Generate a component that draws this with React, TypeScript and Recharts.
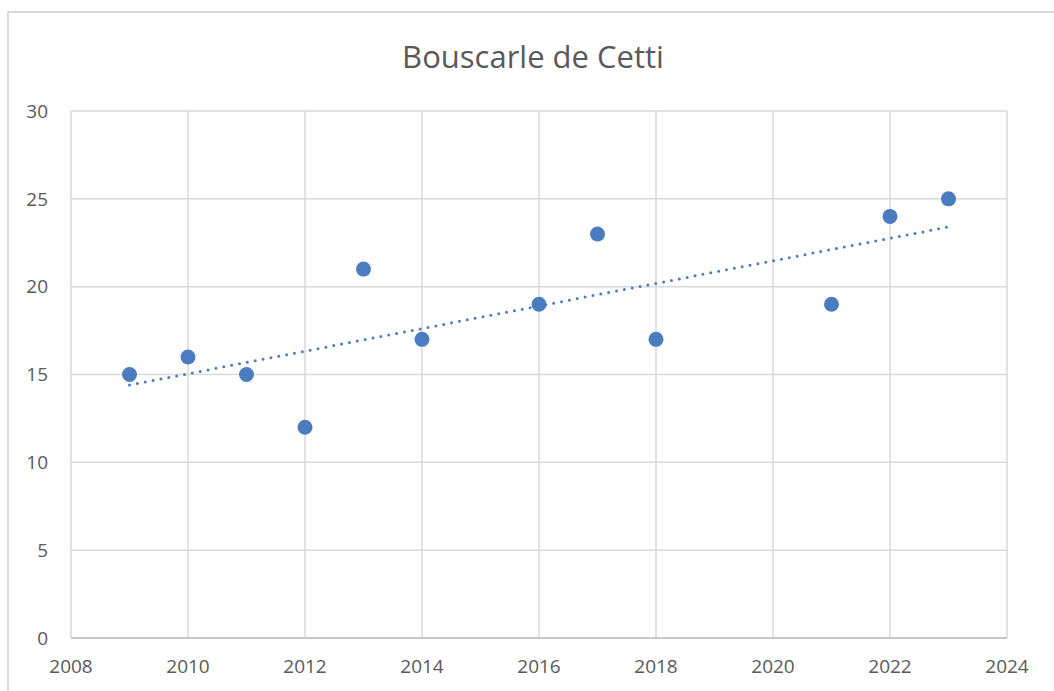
import { ScatterChart, Scatter, XAxis, YAxis, CartesianGrid } from "recharts";

const years = [2009, 2010, 2011, 2012, 2013, 2014, 2016, 2017, 2018, 2021, 2022, 2023];
const counts = [15, 16, 15, 12, 21, 17, 19, 23, 17, 19, 24, 25];

// linear trendline end points
const trendYears = [2009, 2023];
const trendValues = [14.4, 23.4];

const xTicks = [2008, 2010, 2012, 2014, 2016, 2018, 2020, 2022, 2024];
const yTicks = [0, 5, 10, 15, 20, 25, 30];

const blue = "#4a7cbf";
const textColor = "#595959";
const font = "'Open Sans', 'Noto Sans', sans-serif";

export default function App() {
  const points = years.map((y, i) => ({ x: y, y: counts[i] }));
  const trend = trendYears.map((y, i) => ({ x: y, y: trendValues[i] }));

  return (
    <div style={{ position: "fixed", left: 0, top: 0, width: 1054, height: 691, overflow: "hidden", background: "#fff" }}>
      <div
        style={{
          position: "absolute",
          left: 7,
          top: 11,
          width: 1070,
          height: 720,
          border: "2px solid #d9d9d9",
          boxSizing: "border-box",
        }}
      />
      <div
        style={{
          position: "absolute",
          left: 0,
          width: 1066,
          top: 36,
          textAlign: "center",
          fontFamily: font,
          fontSize: 31,
          color: textColor,
          lineHeight: "40px",
        }}
      >
        Bouscarle de Cetti
      </div>
      <div style={{ position: "absolute", left: 9, top: 14 }}>
        <ScatterChart width={1060} height={690} margin={{ top: 97, right: 62, bottom: 16, left: 0 }}>
          <CartesianGrid stroke="#d9d9d9" strokeWidth={1.5} />
          <XAxis
            type="number"
            dataKey="x"
            domain={[2008, 2024]}
            ticks={xTicks}
            interval={0}
            height={50}
            axisLine={{ stroke: "#bfbfbf", strokeWidth: 1.5 }}
            tickLine={false}
            tickSize={0}
            tickMargin={22}
            tick={{ fill: textColor, fontSize: 19, fontFamily: font }}
          />
          <YAxis
            type="number"
            dataKey="y"
            domain={[0, 30]}
            ticks={yTicks}
            interval={0}
            width={62}
            axisLine={false}
            tickLine={false}
            tickSize={0}
            tickMargin={23}
            tick={{ fill: textColor, fontSize: 19, fontFamily: font }}
          />
          <Scatter
            data={trend}
            isAnimationActive={false}
            line={{ stroke: blue, strokeWidth: 3, strokeDasharray: "0 8", strokeLinecap: "round" }}
            shape={() => <g />}
          />
          <Scatter
            data={points}
            isAnimationActive={false}
            shape={(p: any) => <circle cx={p.cx} cy={p.cy} r={7.5} fill={blue} />}
          />
        </ScatterChart>
      </div>
    </div>
  );
}
